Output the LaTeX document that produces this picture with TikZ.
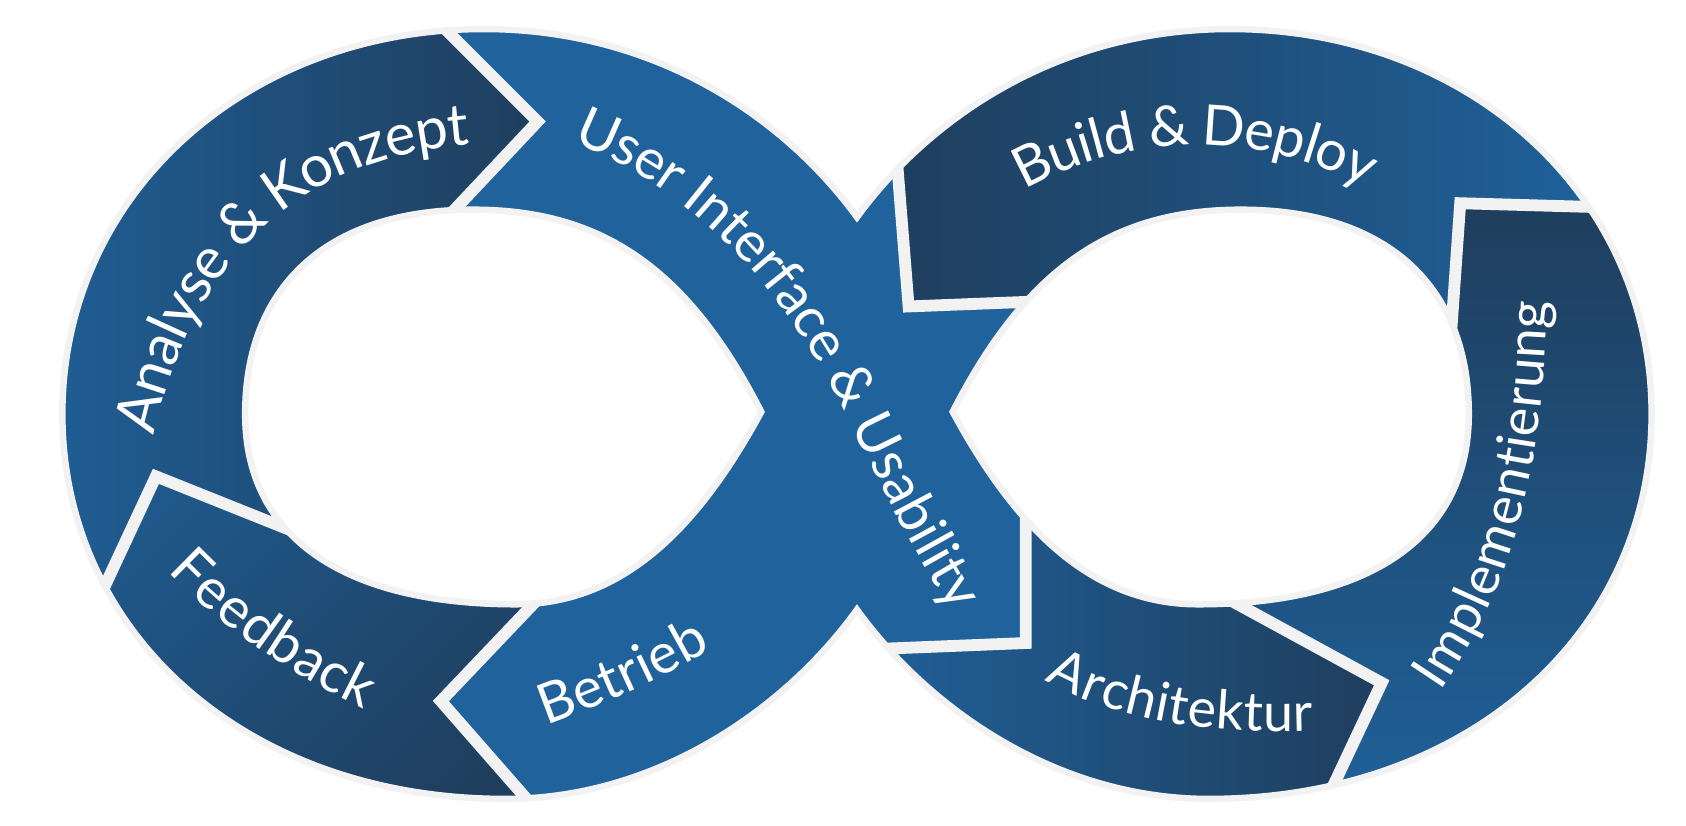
\documentclass[tikz,border=0pt]{standalone}
\usepackage{fontspec}
\setmainfont{Lato}
\usetikzlibrary{decorations.text}
\definecolor{bblue}{HTML}{1F629C}
\definecolor{bdark}{HTML}{1F3E5D}
\definecolor{bgray}{HTML}{F2F2F2}
\newcommand\lblfont{\fontsize{52}{60}\selectfont}
\newcommand\lblbig{\fontsize{54}{62}\selectfont}
\newcommand\lblsmall{\fontsize{50}{58}\selectfont}
\begin{document}
\begin{tikzpicture}[x=1pt,y=-1pt,
  sep/.style={draw=bgray, line width=11pt, line join=miter, miter limit=10},
  rim/.style={draw=bgray, line width=6pt},
  lbl/.style={decorate, decoration={text along path, text align=center, text color=white, raise=-15pt}}]
\useasboundingbox (0,0) rectangle (1568,768);
\def\outerpath{(797,202) .. controls (730,110) and (610,27) .. (450,27)
  .. controls (230,27) and (58,180) .. (58,385)
  .. controls (58,590) and (230,743) .. (470,743)
  .. controls (610,743) and (730,660) .. (797,567)
  .. controls (864,660) and (984,743) .. (1124,743)
  .. controls (1364,743) and (1536,590) .. (1536,385)
  .. controls (1536,180) and (1364,27) .. (1144,27)
  .. controls (984,27) and (864,110) .. (797,202) -- cycle}
\def\holeL{(708,383) .. controls (640,250) and (560,195) .. (440,195)
  .. controls (300,195) and (228,270) .. (228,385)
  .. controls (228,500) and (320,562) .. (480,562)
  .. controls (580,562) and (650,490) .. (708,383) -- cycle}
\def\holeR{(886,383) .. controls (954,250) and (1034,195) .. (1154,195)
  .. controls (1294,195) and (1366,270) .. (1366,385)
  .. controls (1366,500) and (1274,562) .. (1114,562)
  .. controls (1014,562) and (944,490) .. (886,383) -- cycle}
\begin{scope}
  \clip \outerpath;
  \fill[bblue] (0,0) rectangle (1568,768);
  % Analyse & Konzept
  \shade[left color=bblue, right color=bdark]
    (380,-7) -- (500,113) -- (370,251) -- (300,505) -- (145,443) -- (70,604) -- (-20,604) -- (-20,-7) -- cycle;
  % Feedback
  \shade[top color=bblue!80!bdark, bottom color=bdark, shading angle=45]
    (70,604) -- (145,443) -- (300,505) -- (530,526) -- (410,652) -- (530,789) -- (-20,789) -- (-20,604) -- cycle;
  % Build & Deploy
  \shade[left color=bdark, right color=bblue]
    (827,40) -- (845,285) -- (1000,279) -- (1346,360) -- (1358,189) -- (1500,193) -- (1500,-10) -- (827,-10) -- cycle;
  % Implementierung
  \shade[top color=bdark, bottom color=bblue]
    (1570,195) -- (1358,189) -- (1346,360) -- (1120,545) -- (1285,635) -- (1220,773) -- (1570,773) -- cycle;
  % Architektur
  \shade[left color=bblue, right color=bdark]
    (775,606) -- (954,598) -- (954,440) -- (1120,545) -- (1285,635) -- (1220,773) -- (775,773) -- cycle;
  % separators
  \draw[sep] (380,-7) -- (500,113) -- (370,251);
  \draw[sep] (70,604) -- (145,443) -- (300,505);
  \draw[sep] (530,526) -- (410,652) -- (530,789);
  \draw[sep] (780,605) -- (954,598) -- (954,440);
  \draw[sep] (827,60) -- (845,285) -- (1000,279);
  \draw[sep] (1570,195) -- (1358,189) -- (1346,360);
  \draw[sep] (1120,545) -- (1285,635) -- (1220,773);
\end{scope}
\fill[white] \holeL;
\fill[white] \holeR;
\draw[rim] \holeL;
\draw[rim] \holeR;
\draw[rim] \outerpath;
% labels
\path[lbl, decoration={text={|\lblbig|Analyse {\&} Konzept}}]
  (115,505) -- (118,470) .. controls (140,260) and (250,120) .. (470,118) -- (540,118);
\path[lbl, decoration={text={|\lblfont|User Interface {\&} Usability}}]
  (470,98) .. controls (620,128) and (730,235) .. (800,378) .. controls (840,460) and (880,540) .. (930,610) -- (938,622);
\path[lbl, decoration={text={|\lblfont|Build {\&} Deploy}}]
  (880,215) .. controls (980,105) and (1200,75) .. (1345,210);
\path[lbl, decoration={text={|\lblsmall|Implementierung}}]
  (1285,690) .. controls (1385,570) and (1425,460) .. (1425,230) -- (1425,210);
\path[lbl, decoration={text={|\lblsmall|Architektur}}]
  (930,585) .. controls (1010,655) and (1120,675) .. (1280,661);
\path[lbl, decoration={text={|\lblfont|Betrieb}}]
  (435,683) .. controls (515,658) and (615,623) .. (715,553);
\path[lbl, decoration={text={|\lblfont|Feedback}}]
  (121,465) .. controls (181,550) and (271,620) .. (411,675);
\end{tikzpicture}
\end{document}
